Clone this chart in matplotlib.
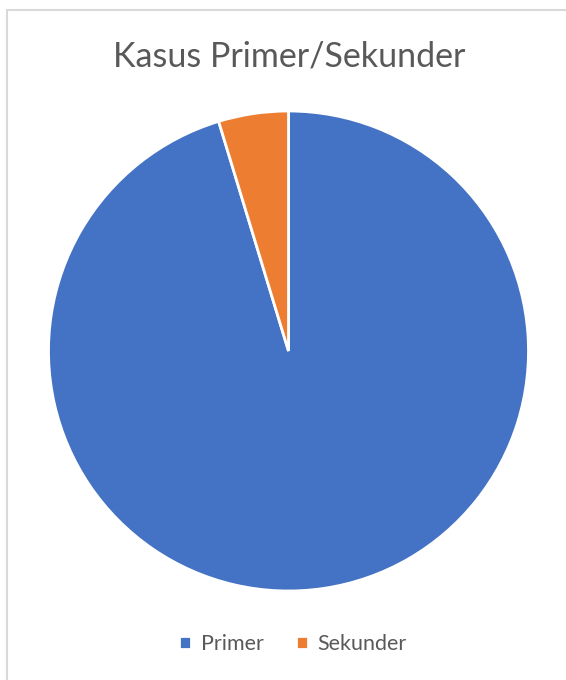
import matplotlib
matplotlib.use("Agg")
import matplotlib.pyplot as plt
from matplotlib.patches import Rectangle

categories = ["Primer", "Sekunder"]
values = [95.3, 4.7]
colors = ["#4472C4", "#ED7D31"]
title = "Kasus Primer/Sekunder"

W, H = 566, 680
fig = plt.figure(figsize=(W / 100, H / 100), dpi=100)
plt.rcParams['font.family'] = ['Lato', 'DejaVu Sans']

# chart border
fig.patches.append(Rectangle((7 / W, -0.1), 1.2, (H - 10) / H + 0.1,
                             transform=fig.transFigure, fill=False,
                             edgecolor="#D9D9D9", linewidth=1.5))

cx, cy, r = 288.5, 351, 240
ax = fig.add_axes([(cx - r) / W, (H - cy - r) / H, 2 * r / W, 2 * r / H])
wedges, _ = ax.pie(values, colors=colors, startangle=90, counterclock=False,
                   wedgeprops=dict(edgecolor="white", linewidth=2))
ax.set_xlim(-1, 1)
ax.set_ylim(-1, 1)
ax.set_aspect("equal")
ax.axis("off")

t = fig.text(289 / W, 1 - 56 / H, title, ha="center", va="center",
             fontsize=24.5, color="#595959")

leg = fig.legend(wedges, categories, loc="center", bbox_to_anchor=(293 / W, 1 - 644 / H),
                 ncol=2, frameon=False, fontsize=15.5, handlelength=0.55, handleheight=0.55,
                 handletextpad=0.45, columnspacing=1.5)
for txt in leg.get_texts():
    txt.set_color("#595959")

fig.savefig("out.png", dpi=100)
